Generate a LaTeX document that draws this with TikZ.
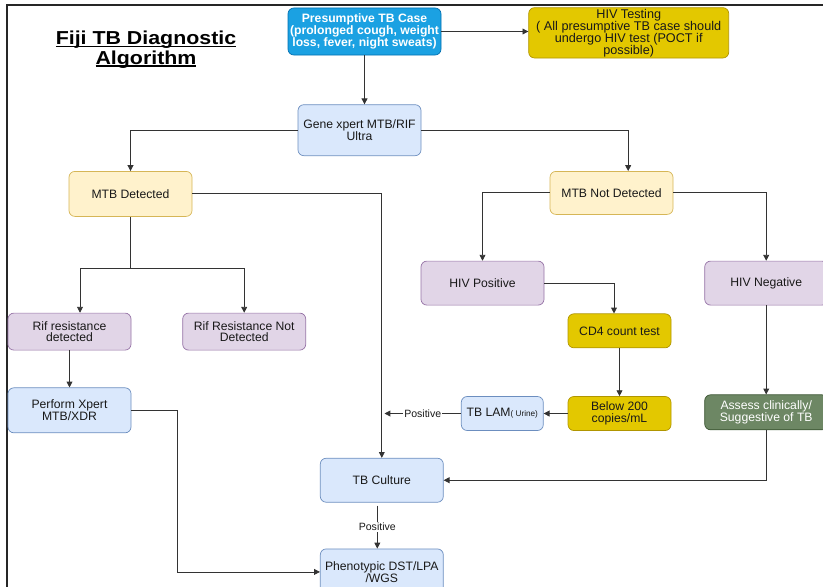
\documentclass[tikz,border=0pt]{standalone}
\usepackage{fontspec}
\setmainfont{Liberation Sans}
\newfontfamily\titlefont[FakeStretch=1.14]{Liberation Sans}
\usepackage{tikz}
\usetikzlibrary{arrows.meta,shapes,positioning,calc}
\usepackage{xcolor}
\newcommand{\ttlul}[1]{\setbox0\hbox{#1}\rlap{\rule[-1.6pt]{\wd0}{1.1pt}}\box0}
\lineskiplimit=-10pt
\definecolor{tbblue}{RGB}{27,161,226}
\definecolor{tbbluedark}{RGB}{0,110,175}
\definecolor{hivyellow}{RGB}{227,200,0}
\definecolor{hivyellowdark}{RGB}{176,149,0}
\definecolor{lblue}{RGB}{218,232,252}
\definecolor{lbluedark}{RGB}{108,142,191}
\definecolor{lyellow}{RGB}{255,242,204}
\definecolor{lyellowdark}{RGB}{214,182,86}
\definecolor{lpurple}{RGB}{225,213,231}
\definecolor{lpurpledark}{RGB}{150,115,166}
\definecolor{tbgreen}{RGB}{109,135,100}
\definecolor{tbgreendark}{RGB}{58,84,49}
\definecolor{linegray}{RGB}{51,51,51}
\tikzstyle{arrow} = [line width=0.7pt,-{Triangle[length=5pt,width=5pt]},color=linegray]
\tikzstyle{box} = [rectangle, rounded corners=5pt, align=center, text centered, line width=0.6pt, inner sep=1pt, font=\fontsize{10.4}{10}\selectfont, text=black!90]
\tikzstyle{casebox} = [box, draw=tbbluedark, fill=tbblue, text=white, font=\fontsize{10.4}{10}\selectfont\bfseries, minimum width=4.59cm, minimum height=1.41cm]
\tikzstyle{testbox} = [box, draw=hivyellowdark, fill=hivyellow, minimum width=3.09cm, minimum height=1.02cm]
\tikzstyle{labbox} = [box, draw=lbluedark, fill=lblue, minimum width=3.69cm, minimum height=1.35cm]
\tikzstyle{resultbox} = [box, draw=lyellowdark, fill=lyellow, minimum width=3.69cm, minimum height=1.35cm]
\tikzstyle{statusbox} = [box, draw=lpurpledark, fill=lpurple, minimum width=3.69cm, minimum height=1.32cm]
\tikzstyle{clinicbox} = [box, draw=tbgreendark, fill=tbgreen, text=white, minimum width=3.69cm, minimum height=1.05cm]
\tikzstyle{poslabel} = [fill=white, inner sep=1pt, font=\fontsize{9}{10}\selectfont, text=black!90]

\begin{document}
\begin{tikzpicture}
\useasboundingbox (0,0) rectangle (24.69,-17.58);
% frame
\draw[line width=2.4pt, color=black!85] (0.21,-17.7) -- (0.21,-0.15) -- (24.8,-0.15);

% title
\node[align=center, font=\titlefont\fontsize{16}{16.8}\selectfont\bfseries] (title) at (4.38,-1.5) {\ttlul{Fiji TB Diagnostic}\\\ttlul{Algorithm}};

% top row
\node[casebox] (p) at (10.935,-0.945) {Presumptive TB Case\\(prolonged cough, weight\\loss, fever, night sweats)};
\node[testbox, minimum width=6cm, minimum height=1.47cm, font=\fontsize{10.8}{10.3}\selectfont, right=2.61cm of p, yshift=-0.04cm] (hiv) {HIV Testing\\( All presumptive TB case should\\undergo HIV test (POCT if\\possible)};
\node[labbox, minimum height=1.53cm, below=1.47cm of p, xshift=-0.15cm] (gene) {Gene xpert MTB/RIF\\Ultra};

% MTB detected branch
\node[resultbox, below=0.45cm of gene, xshift=-6.87cm] (md) {MTB Detected};
\node[statusbox, minimum height=1.11cm, below=2.88cm of md, xshift=-1.83cm] (rd) {Rif resistance\\detected};
\node[statusbox, minimum height=1.11cm, right=1.53cm of rd] (rn) {Rif Resistance Not\\Detected};
\node[labbox, below=1.11cm of rd] (xdr) {Perform Xpert\\MTB/XDR};

% MTB not detected branch
\node[resultbox, minimum height=1.29cm, below=0.45cm of gene, xshift=7.56cm] (nd) {MTB Not Detected};
\node[statusbox, below=1.38cm of nd, xshift=-3.87cm] (hp) {HIV Positive};
\node[statusbox, right=4.8cm of hp] (hn) {HIV Negative};
\node[testbox, below=0.24cm of hp, xshift=4.11cm] (cd) {CD4 count test};
\node[testbox, below=1.44cm of cd] (bl) {Below 200\\copies/mL};
\node[labbox, minimum width=2.46cm, minimum height=1.02cm, left=0.72cm of bl] (lam) {TB LAM{\fontsize{7}{8}\selectfont( Urine)}};
\node[clinicbox, below=2.67cm of hn] (as) {Assess clinically/\\Suggestive of TB};

% culture
\node[labbox, minimum height=1.32cm, below=0.81cm of lam, xshift=-3.615cm] (tc) {TB Culture};
\node[labbox, minimum height=1.38cm, below=1.38cm of tc] (ph) {Phenotypic DST/LPA\\/WGS};

% connectors
\coordinate (mdsplit) at ([yshift=-1.56cm]md.south);
\coordinate (lamend) at ([xshift=0.08cm]lam.west -| tc.north);
\draw[arrow] (p) -- (p -| hiv.west);
\draw[arrow] (p.south) -- (p.south |- gene.north);
\draw[arrow] (gene.west) -| (md.north);
\draw[arrow] (gene.east) -| ([xshift=0.5cm]nd.north);
\draw[line width=0.7pt, color=linegray] (md.south) -- (mdsplit);
\draw[arrow] (mdsplit) -| ([xshift=0.315cm]rd.north);
\draw[arrow] (mdsplit) -| (rn.north);
\draw[arrow] (md.east) -| (tc.north);
\draw[arrow] (rd) -- (xdr);
\draw[arrow] (xdr.east) -- ++(1.38,0) |- (ph.west);
\draw[arrow] (nd.west) -| (hp.north);
\draw[arrow] (nd.east) -| (hn.north);
\draw[arrow] (hp.east) -| ([xshift=-0.165cm]cd.north);
\draw[arrow] (cd) -- (bl);
\draw[arrow] (bl) -- (lam);
\draw[arrow] (lam.west) -- node[poslabel] {Positive} (lamend);
\draw[arrow] (hn) -- (as);
\draw[arrow] (as.south) |- (tc.east);
\draw[arrow] ([xshift=-0.135cm,yshift=-0.09cm]tc.south) -- node[poslabel] {Positive} ([xshift=-0.135cm]ph.north);
\end{tikzpicture}
\end{document}
